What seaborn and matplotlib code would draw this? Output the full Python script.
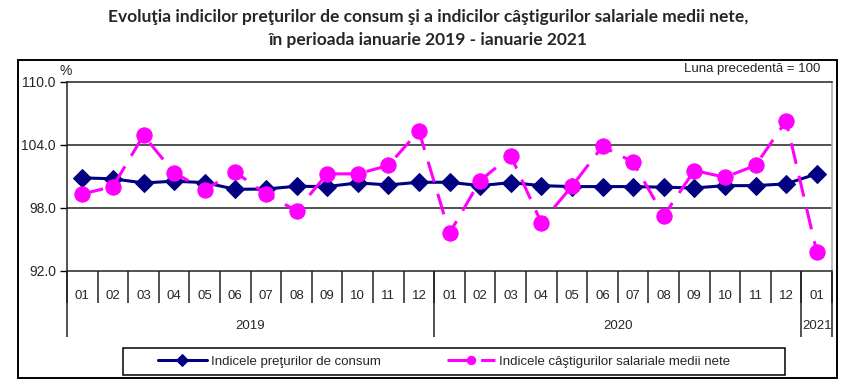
import pandas as pd
import numpy as np
import matplotlib
matplotlib.use("Agg")
import matplotlib.pyplot as plt
import matplotlib.transforms as mtransforms
from matplotlib.patches import Rectangle
import seaborn as sns

# Data, previous month = 100
months = ["01", "02", "03", "04", "05", "06", "07", "08", "09", "10", "11", "12",
          "01", "02", "03", "04", "05", "06", "07", "08", "09", "10", "11", "12",
          "01"]
years = ["2019", "2020", "2021"]
year_lengths = [12, 12, 1]
cpi = [100.87, 100.78, 100.39, 100.55, 100.42, 99.78, 99.81, 100.07, 100.04, 100.39, 100.20, 100.45,
       100.45, 100.13, 100.42, 100.13, 100.04, 100.04, 100.04, 99.98, 99.91, 100.13, 100.13, 100.30,
       101.25]
wages = [99.34, 100.04, 104.92, 101.35, 99.75, 101.41, 99.34, 97.74, 101.25, 101.25, 102.05, 105.34,
         95.60, 100.60, 103.00, 96.60, 100.07, 103.87, 102.37, 97.26, 101.57, 100.93, 102.05, 106.30,
         93.84]
label_cpi = "Indicele preţurilor de consum"
label_wages = "Indicele câştigurilor salariale medii nete"

df = pd.DataFrame({"pos": np.arange(len(months)), "cpi": cpi, "wages": wages})

sns.set_style("white")
plt.rcParams["font.family"] = ["Liberation Sans", "DejaVu Sans"]

W, H = 856, 389
fig = plt.figure(figsize=(W / 100, H / 100), dpi=100)

def fx(px):
    return px / W

def fy(py):
    return 1 - py / H

ax = fig.add_axes([fx(67), fy(271), fx(832 - 67), (271 - 82) / H])

sns.lineplot(data=df, x="pos", y="cpi", ax=ax, color="#000080", marker="D",
             markersize=9.5, markeredgecolor="#000080", linewidth=2.2, label=label_cpi)
sns.lineplot(data=df, x="pos", y="wages", ax=ax, color="#FF00FF", marker="o",
             markersize=11, markeredgecolor="#FF00FF", linewidth=2.2,
             linestyle=(0, (7, 4)), label=label_wages)

ax.set_xlim(-0.5, len(months) - 0.5)
ax.set_ylim(92, 110)
ax.set_yticks([92, 98, 104, 110])
ax.set_yticklabels([f"{v:.1f}" for v in [92, 98, 104, 110]], fontsize=10)
ax.tick_params(axis="y", length=5, width=1, direction="out", pad=3, left=True, color="black")
for v in [98, 104]:
    ax.axhline(v, color="#222222", linewidth=1.1, zorder=0)
ax.set_xlabel("")
ax.set_ylabel("")

for side in ["top", "bottom", "left"]:
    ax.spines[side].set_color("#222222")
    ax.spines[side].set_linewidth(1.1)
ax.spines["right"].set_color("#aaaaaa")
ax.spines["right"].set_linewidth(1.1)

# month labels and separators
ax.set_xticks(df["pos"])
ax.set_xticklabels(months, fontsize=9.5)
ax.tick_params(axis="x", length=0, pad=14)
trans = mtransforms.blended_transform_factory(ax.transData, ax.transAxes)
month_depth = -(303 - 271) / (271 - 82)
year_depth = -(337 - 271) / (271 - 82)
edges = np.arange(len(months) + 1) - 0.5
ax.vlines(edges, month_depth, 0, transform=trans, colors="#222222", linewidth=1.1, clip_on=False)
year_edges = np.concatenate([[0], np.cumsum(year_lengths)]) - 0.5
ax.vlines(year_edges, year_depth, 0, transform=trans, colors="#222222", linewidth=1.1, clip_on=False)
for i, yr in enumerate(years):
    center = (year_edges[i] + year_edges[i + 1]) / 2
    ax.text(center, -(326 - 271) / (271 - 82), yr, transform=trans, ha="center", va="center",
            fontsize=9.5)

# legend (frame drawn separately to match the wide box)
ax.get_legend().remove()
handles, labels = ax.get_legend_handles_labels()
leg = fig.legend(handles, labels, loc="center left", bbox_to_anchor=(fx(158), fy(361.5)),
                 ncol=2, frameon=False, columnspacing=5.0, borderaxespad=0, borderpad=0,
                 handlelength=3.7, handletextpad=0.3, prop={"size": 9.5})
for h in leg.legend_handles:
    h.set_markersize(6)
fig.patches.append(Rectangle((fx(123), fy(375)), fx(785 - 123), (375 - 348) / H, transform=fig.transFigure,
                             fill=False, edgecolor="black", linewidth=1.1))

# outer frame and texts
fig.patches.append(Rectangle((fx(18), fy(378)), fx(837 - 18), (378 - 60) / H, transform=fig.transFigure,
                             fill=False, edgecolor="black", linewidth=1.4))
fig.text(fx(66), fy(71), "%", fontsize=10, ha="center", va="center")
fig.text(fx(820), fy(69), "Luna precedentă = 100", fontsize=9.5, ha="right", va="center")
fig.text(0.5, fy(17), "Evoluţia indicilor preţurilor de consum şi a indicilor câştigurilor salariale medii nete,",
         ha="center", va="center", fontsize=12.5, fontweight="bold", family=["Lato", "DejaVu Sans"])
fig.text(0.5, fy(40), "în perioada ianuarie 2019 - ianuarie 2021",
         ha="center", va="center", fontsize=12.5, fontweight="bold", family=["Lato", "DejaVu Sans"])

fig.savefig("out.png", dpi=100)
